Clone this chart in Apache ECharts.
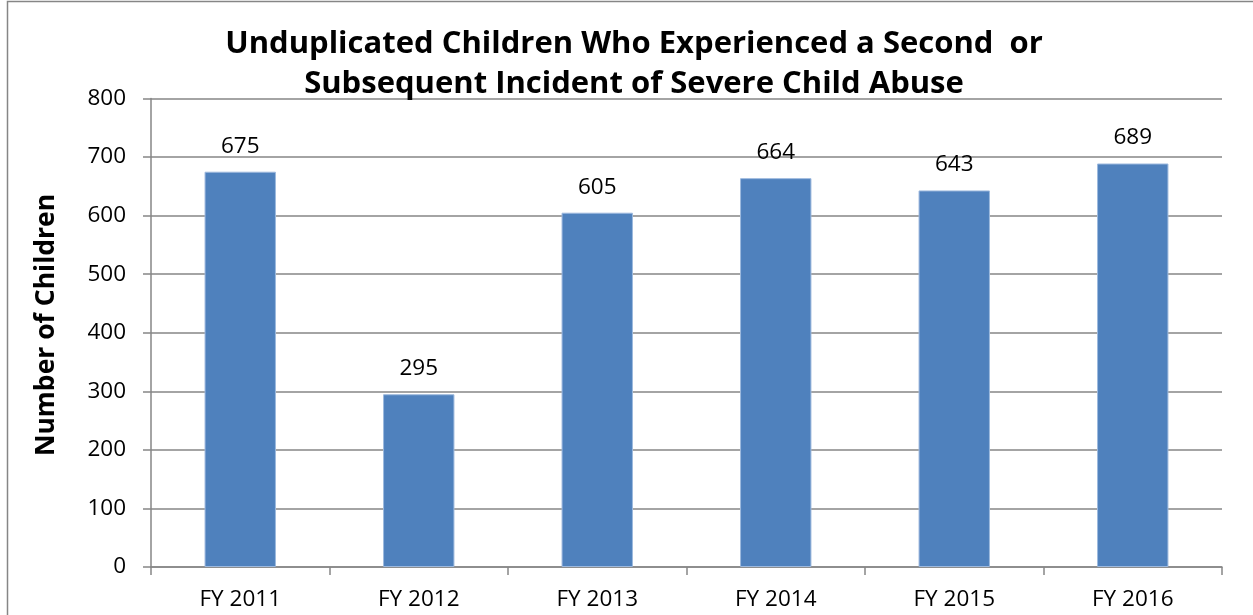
<!DOCTYPE html>
<html><head><meta charset="utf-8">
<script src="https://cdn.jsdelivr.net/npm/echarts@6/dist/echarts.min.js"></script>
<style>html,body{margin:0;padding:0;background:#fff}#c{width:1253px;height:615px}</style>
</head><body><div id="c"></div>
<script>
const categories = ['FY 2011','FY 2012','FY 2013','FY 2014','FY 2015','FY 2016'];
const values = [675, 295, 605, 664, 643, 689];
const titleLines = ['Unduplicated Children Who Experienced a Second  or', 'Subsequent Incident of Severe Child Abuse'];
const yAxisName = 'Number of Children';
const yTicks = {min: 0, max: 800, interval: 100};

const FONT = '"Open Sans", Lato, sans-serif';
const chart = echarts.init(document.getElementById('c'), null, {renderer: 'canvas'});
chart.setOption({
  animation: false,
  backgroundColor: '#fff',
  title: {
    text: titleLines.join('\n'),
    left: 629, textAlign: 'center', top: 19,
    textStyle: {fontFamily: FONT, fontWeight: 'bold', fontSize: 31, color: '#000', lineHeight: 40}
  },
  graphic: [{
    type: 'rect', shape: {x: 7.5, y: 1.5, width: 1300, height: 700},
    style: {fill: 'none', stroke: '#868686', lineWidth: 1.5}, silent: true, z: -1
  }, {
    type: 'text', x: 46, y: 325, rotation: Math.PI / 2, silent: true,
    style: {text: yAxisName, fontFamily: FONT, fontWeight: 'bold', fontSize: 26.5, fill: '#000',
            textAlign: 'center', textVerticalAlign: 'middle'}
  }],
  grid: {left: 151, right: 31, top: 98.5, bottom: 48, containLabel: false},
  xAxis: {
    type: 'category', data: categories,
    axisLine: {lineStyle: {color: '#868686', width: 1.5}},
    axisTick: {show: true, alignWithLabel: false, inside: false, length: 8, lineStyle: {color: '#868686', width: 1.5}},
    axisLabel: {fontFamily: FONT, fontSize: 22.5, color: '#000', margin: 21}
  },
  yAxis: {
    type: 'value', min: yTicks.min, max: yTicks.max, interval: yTicks.interval,
    axisLine: {show: true, lineStyle: {color: '#868686', width: 1.5}},
    axisTick: {show: true, length: 8, lineStyle: {color: '#868686', width: 1.5}},
    axisLabel: {fontFamily: FONT, fontSize: 22.5, color: '#000', margin: 25},
    splitLine: {show: true, lineStyle: {color: '#868686', width: 1.5}}
  },
  series: [{
    type: 'bar', data: values, barWidth: '40%',
    itemStyle: {color: '#4F81BD', borderColor: '#9DB9DE', borderWidth: 1},
    label: {show: true, position: 'top', distance: 14, fontFamily: FONT, fontSize: 22.5, color: '#000'}
  }]
});
</script></body></html>
